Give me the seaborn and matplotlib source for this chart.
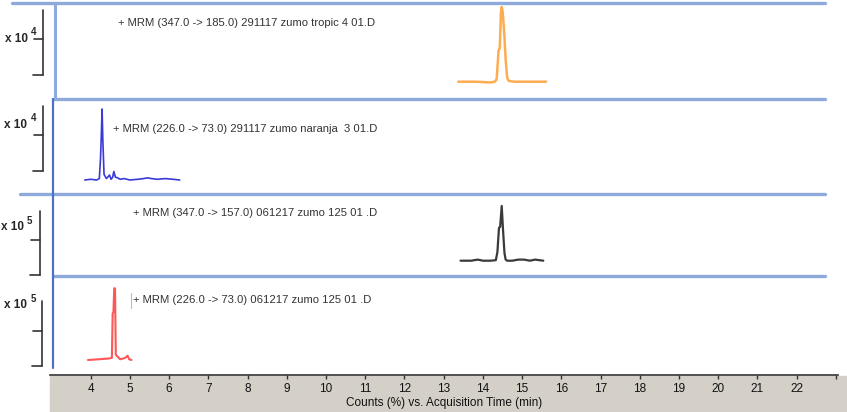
import numpy as np
import matplotlib
matplotlib.use("Agg")
import matplotlib.pyplot as plt
from matplotlib.lines import Line2D
from matplotlib.patches import Rectangle
import seaborn as sns

# chromatogram traces: time (min) and relative counts (%)
tropic_t = [13.37, 13.8, 14.20, 14.30, 14.35, 14.40, 14.43, 14.46, 14.48, 14.50,
            14.52, 14.55, 14.58, 14.62, 14.66, 14.80, 15.2, 15.61]
tropic_i = [0, 0, -1, 0, 3, 42, 45, 92, 100, 95, 83, 60, 29, 5, 1, 0, 0, 0]

naranja_t = [3.85, 4.0, 4.15, 4.22, 4.25, 4.27, 4.29, 4.31, 4.34, 4.40, 4.45, 4.48,
             4.52, 4.56, 4.59, 4.63, 4.69, 4.75, 4.85, 5.0, 5.2, 5.35, 5.45, 5.55,
             5.7, 5.9, 6.1, 6.27]
naranja_i = [0, 1, 0, 2, 30, 62, 100, 55, 8, 2, 5, 7, 1, 4, 12, 4, 3, 1, 2, 0, 1,
             2, 3, 2, 1, 2, 1, 0]

z125a_t = [13.43, 13.7, 13.87, 14.0, 14.2, 14.33, 14.37, 14.41, 14.44, 14.48, 14.51,
           14.55, 14.58, 14.62, 14.75, 14.9, 15.05, 15.2, 15.33, 15.54]
z125a_i = [0, 0, 2, 0, 0, 1, 16, 60, 62, 100, 60, 14, 2, 0, 0, 2, 2, 0, 2, 0]

z125b_t = [3.93, 4.2, 4.45, 4.54, 4.56, 4.58, 4.60, 4.62, 4.64, 4.66, 4.70, 4.75,
           4.82, 4.88, 4.94, 4.98, 5.04]
z125b_i = [0, 1, 2, 3, 65, 67, 100, 100, 8, 6, 4, 1, 2, 3, 6, 1, 0]

titles = ["+ MRM (347.0 -> 185.0) 291117 zumo tropic 4 01.D",
          "+ MRM (226.0 -> 73.0) 291117 zumo naranja  3 01.D",
          "+ MRM (347.0 -> 157.0) 061217 zumo 125 01 .D",
          "+ MRM (226.0 -> 73.0) 061217 zumo 125 01 .D"]
exponents = ["4", "4", "5", "5"]
tick_vals = list(range(4, 24))
tick_labels = [str(v) for v in range(4, 23)] + [""]

sns.set_style("white")
plt.rcParams['font.family'] = ['Liberation Sans', 'DejaVu Sans']

W, H = 847, 412
fig = plt.figure(figsize=(W / 100, H / 100), dpi=100)


def fx(px):
    return px / W


def fy(py):
    return 1 - py / H


# gray band behind the time axis
fig.patches.append(Rectangle((fx(50), 0), (W - 50) / W, (H - 376) / H,
                             transform=fig.transFigure, color="#d4d0c8", zorder=-1))

xlim = (4 - 40.7 / 39.22, 4 + (838 - 90.7) / 39.22)

# top, bottom, baseline, peak (pixels) for each panel
panels = [(4, 98, 81.7, 7), (100, 193, 180, 109), (196, 275, 260.7, 206), (277, 375, 360, 288.3)]
traces = [(tropic_t, tropic_i, "#ffab52", 1.8),
          (naranja_t, naranja_i, "#3a3ad8", 1.2),
          (z125a_t, z125a_i, "#3a3a3a", 1.6),
          (z125b_t, z125b_i, "#ff5757", 1.5)]
text_pos = [(118, 22.5), (113, 128.5), (133, 212.5), (133, 300)]

axes = []
for (top, bot, base, peak), (t, inten, col, lw) in zip(panels, traces):
    ax = fig.add_axes([fx(50), fy(bot), (838 - 50) / W, (bot - top) / H])
    ax.set_facecolor("none")
    sns.lineplot(x=t, y=inten, ax=ax, color=col, lw=lw)
    span = base - peak
    ax.set_ylim(-(bot - base) / span * 100, (base - top) / span * 100)
    ax.set_xlim(*xlim)
    for s in ax.spines.values():
        s.set_visible(False)
    ax.set_yticks([])
    ax.set_xticks([])
    ax.set_xlabel("")
    ax.set_ylabel("")
    axes.append(ax)

# time axis on the bottom panel
ax = axes[-1]
ax.spines['bottom'].set_visible(True)
ax.spines['bottom'].set_color("#333333")
ax.spines['bottom'].set_linewidth(1.2)
ax.set_xticks(tick_vals)
ax.set_xticklabels(tick_labels)
ax.tick_params(axis='x', bottom=True, labelbottom=True, direction='out', length=3, width=1,
               color="#333333", pad=3, labelsize=8.5, labelcolor="#111111")
ax.set_xlabel("Counts (%) vs. Acquisition Time (min)", fontsize=8.5,
              color="#111111", labelpad=1)

# panel separators
sep_col = "#8eaadc"
for y, x0 in [(2.5, 12), (99, 53), (194.5, 20), (276, 54)]:
    fig.lines.append(Line2D([fx(x0), fx(825)], [fy(y), fy(y)], transform=fig.transFigure,
                            color=sep_col, lw=2.4))
fig.lines.append(Line2D([fx(55), fx(55)], [fy(4), fy(98)], transform=fig.transFigure,
                        color=sep_col, lw=2.2))
fig.lines.append(Line2D([fx(52.5), fx(52.5)], [fy(99), fy(368)], transform=fig.transFigure,
                        color="#4a72c8", lw=1.6))

# scale brackets and exponent labels
brackets = [(43, 10, 39, 74.5), (43.3, 105.7, 135, 171), (40, 210.7, 240, 275), (42.3, 300.7, 330.7, 365.7)]
label_pos = [(5, 38.5, 31, 32), (4, 124.5, 31, 118), (1, 227.5, 27, 220.5), (4, 305.5, 31, 298.5)]
for (bx, y0, ym, y1), (lx, ly, ex, ey), expo in zip(brackets, label_pos, exponents):
    kw = dict(transform=fig.transFigure, color="#333333", lw=1.2)
    fig.lines.append(Line2D([fx(bx), fx(bx)], [fy(y0), fy(y1)], **kw))
    fig.lines.append(Line2D([fx(bx - 9), fx(bx)], [fy(ym), fy(ym)], **kw))
    fig.lines.append(Line2D([fx(bx - 10), fx(bx)], [fy(y1), fy(y1)], **kw))
    fig.text(fx(lx), fy(ly), "x 10", fontsize=8.5, fontweight="bold", va="center", ha="left")
    fig.text(fx(ex), fy(ey), expo, fontsize=7, fontweight="bold", va="center", ha="left")

for (tx, ty), title in zip(text_pos, titles):
    fig.text(fx(tx), fy(ty), title, fontsize=8.1, color="#333333", va="center", ha="left")
fig.lines.append(Line2D([fx(131), fx(131)], [fy(293), fy(308)], transform=fig.transFigure,
                        color="#bbbbbb", lw=0.8))

fig.savefig("out.png", dpi=100)
